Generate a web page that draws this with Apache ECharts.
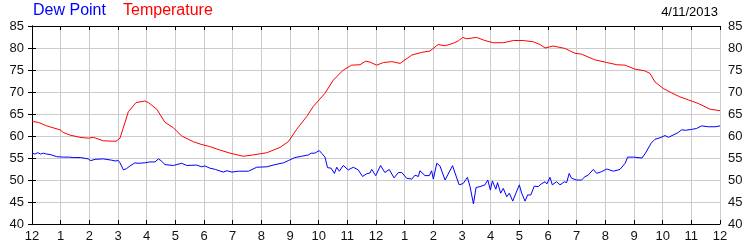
<!DOCTYPE html>
<html>
<head>
<meta charset="utf-8">
<script src="https://cdn.jsdelivr.net/npm/echarts@6/dist/echarts.min.js"></script>
<style>html,body{margin:0;padding:0;background:#fff}#c{width:750px;height:250px}</style>
</head>
<body>
<div id="c"></div>
<script>
var hourLabels = ['12','1','2','3','4','5','6','7','8','9','10','11','12','1','2','3','4','5','6','7','8','9','10','11','12'];
var yTicks = [40,45,50,55,60,65,70,75,80,85];

var tempHours = [0,0.22,0.51,0.98,1.09,1.33,1.67,1.96,2.14,2.49,2.93,3.07,3.36,3.63,3.94,4.06,4.35,4.64,4.93,5.22,5.63,5.9,6.2,6.56,6.91,7.37,7.72,8.19,8.65,8.94,9.23,9.58,9.81,10.22,10.51,10.86,11.15,11.44,11.64,11.79,12.02,12.26,12.55,12.84,13.01,13.25,13.59,13.88,14.17,14.41,14.70,14.87,15.02,15.16,15.51,15.80,16.09,16.44,16.79,17.14,17.49,17.72,17.90,18.18,18.59,18.94,19.17,19.64,20.05,20.40,20.69,21.03,21.38,21.56,21.73,22.02,22.31,22.60,22.90,23.24,23.65,24.0];
var tempValues = [63.3,63.1,62.3,61.4,60.8,60.2,59.7,59.5,59.7,58.9,58.8,59.5,65.5,67.6,67.95,67.6,66.1,63.1,61.9,60.0,58.7,58.1,57.6,56.8,56.1,55.4,55.7,56.2,57.4,58.7,61.5,64.4,66.7,69.7,72.7,75.0,76.1,76.2,77.0,76.8,76.1,76.7,76.9,76.5,77.3,78.4,79.0,79.3,80.8,80.5,81.1,81.6,82.4,82.1,82.4,81.7,81.2,81.2,81.7,81.7,81.4,80.8,80.0,80.45,79.9,78.8,78.6,77.3,76.7,76.2,76.1,75.2,74.8,74.2,72.3,70.8,69.8,68.9,68.2,67.4,66.1,65.75];

var dewHours = [0,0.1,0.2,0.3,0.4,0.5,0.63,0.86,1.09,1.3,1.44,1.7,1.96,2.05,2.2,2.49,2.78,2.93,3.0,3.07,3.19,3.3,3.42,3.59,3.7,3.94,4.1,4.29,4.41,4.5,4.64,4.93,5.22,5.4,5.74,5.92,6.03,6.2,6.4,6.67,6.8,6.97,7.2,7.55,7.84,8.19,8.48,8.77,8.94,9.17,9.41,9.64,9.74,9.87,10.02,10.1,10.22,10.31,10.43,10.55,10.63,10.72,10.86,11.03,11.21,11.38,11.53,11.67,11.79,11.85,11.99,12.16,12.31,12.46,12.63,12.78,12.9,13.07,13.25,13.36,13.48,13.53,13.71,13.86,13.94,14.0,14.12,14.23,14.41,14.67,14.9,15.04,15.19,15.28,15.4,15.49,15.63,15.8,15.9,15.99,16.06,16.18,16.24,16.35,16.44,16.56,16.65,16.77,16.88,17.0,17.08,17.2,17.29,17.4,17.52,17.66,17.76,17.9,17.96,18.07,18.15,18.3,18.42,18.57,18.65,18.74,18.82,19.0,19.17,19.29,19.4,19.58,19.7,19.87,20.05,20.28,20.51,20.69,20.78,20.99,21.28,21.4,21.6,21.73,21.91,22.08,22.2,22.36,22.53,22.66,22.8,23.01,23.18,23.36,23.59,23.83,24.0];
var dewValues = [56.1,55.9,56.2,55.9,56.1,55.9,55.8,55.3,55.2,55.2,55.1,55.1,54.8,54.4,54.7,54.8,54.5,54.3,54.5,53.9,52.3,52.6,53.2,53.9,53.8,53.9,54.1,54.1,54.8,54.4,53.5,53.3,53.8,53.3,53.4,53.0,53.2,52.7,52.4,51.8,52.1,51.8,52.0,52.0,52.9,53.0,53.5,53.9,54.4,55.1,55.4,55.7,56.1,56.1,56.7,56.1,55.2,52.8,52.7,51.5,52.9,52.0,53.3,52.3,52.9,52.3,50.8,51.4,51.6,52.4,51.0,53.3,51.7,52.4,50.5,51.7,51.7,50.4,50.2,51.1,50.8,52.1,51.0,51.0,52.1,50.2,53.8,53.2,50.0,53.25,48.9,49.2,50.6,48.5,44.55,48.3,48.5,48.9,50.0,47.7,49.8,47.9,49.4,47.0,48.1,46.2,47.0,45.2,47.0,48.9,47.0,45.2,46.6,46.6,48.6,48.5,49.1,49.6,49.1,50.6,48.9,49.6,48.9,49.6,49.4,51.5,50.4,50.0,50.0,50.75,51.1,52.4,51.5,51.9,52.5,52.0,52.4,53.8,55.2,55.2,55.0,56.1,58.4,59.25,59.6,60.1,59.7,60.2,60.75,61.4,61.3,61.5,61.7,62.3,62.1,62.1,62.3];

var dateText = '4/11/2013';

function zip(a, b) { return a.map(function (v, i) { return [v, b[i]]; }); }

var FONT = 'Liberation Sans, Arial, sans-serif';
var chart = echarts.init(document.getElementById('c'), null, {renderer: 'canvas'});
var yAxisBase = {
  type: 'value', min: yTicks[0], max: yTicks[yTicks.length - 1], interval: 5,
  axisLine: {show: true, lineStyle: {color: '#000', width: 1}},
  axisTick: {show: true, inside: true, length: 4, lineStyle: {color: '#000'}},
  axisLabel: {color: '#111', fontSize: 13, fontFamily: FONT, margin: 8},
  splitLine: {show: true, lineStyle: {color: '#cccccc', width: 1}}
};
var xAxisBase = {
  type: 'value', min: 0, max: 24, interval: 1,
  axisLine: {show: true, onZero: false, lineStyle: {color: '#000', width: 1}},
  axisTick: {show: true, inside: true, length: 4, lineStyle: {color: '#000'}},
  splitLine: {show: true, lineStyle: {color: '#cccccc', width: 1}}
};
chart.setOption({
  animation: false,
  backgroundColor: '#fff',
  grid: {left: 32, right: 30, top: 26, bottom: 26, containLabel: false},
  graphic: [
    {type: 'text', left: 33, top: 3, style: {text: 'Dew Point', fill: '#0000ff', font: '16px ' + FONT}},
    {type: 'text', left: 123, top: 3, style: {text: 'Temperature', fill: '#ff0000', font: '16px ' + FONT}},
    {type: 'text', right: 32, top: 6, style: {text: dateText, fill: '#000', font: '13px ' + FONT}}
  ],
  xAxis: [
    Object.assign({}, xAxisBase, {position: 'bottom',
      axisLabel: {color: '#111', fontSize: 13, fontFamily: FONT, margin: 6,
        formatter: function (v) { return hourLabels[Math.round(v)]; }}}),
    Object.assign({}, xAxisBase, {position: 'top', axisLabel: {show: false}, splitLine: {show: false}})
  ],
  yAxis: [
    Object.assign({}, yAxisBase, {position: 'left'}),
    Object.assign({}, yAxisBase, {position: 'right', splitLine: {show: false}})
  ],
  series: [
    {name: 'Dew Point', type: 'line', data: zip(dewHours, dewValues), showSymbol: false, symbol: 'none',
      lineStyle: {color: '#0000ff', width: 1}, itemStyle: {color: '#0000ff'}},
    {name: 'Temperature', type: 'line', data: zip(tempHours, tempValues), showSymbol: false, symbol: 'none',
      lineStyle: {color: '#ff0000', width: 1}, itemStyle: {color: '#ff0000'}}
  ]
});
</script>
</body>
</html>
